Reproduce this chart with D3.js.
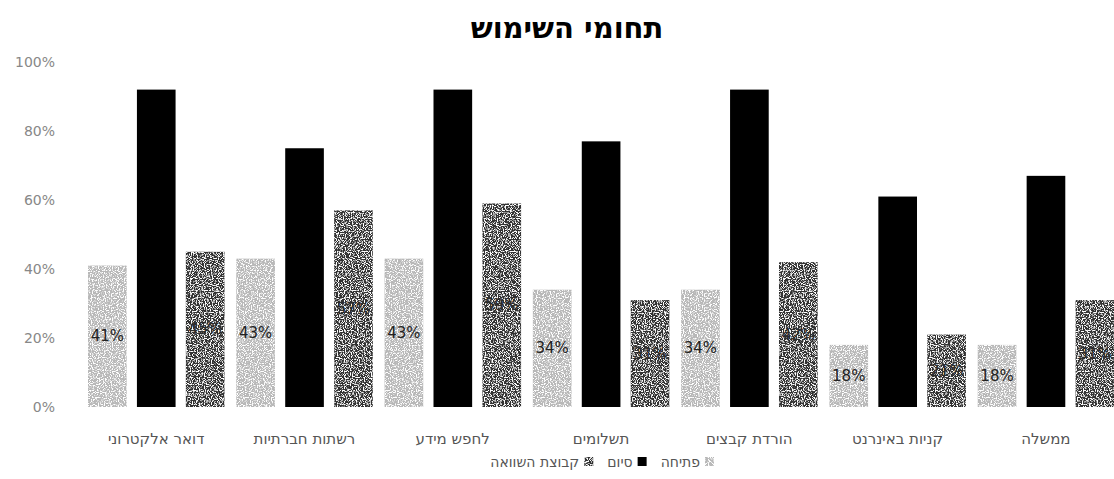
<!DOCTYPE html>
<html lang="he">
<head>
<meta charset="utf-8">
<script src="https://cdn.jsdelivr.net/npm/d3@7"></script>
<style>
  body { margin: 0; background: #fff; }
  text { font-family: 'DejaVu Sans', 'Noto Sans', sans-serif; }
</style>
</head>
<body>
<div class="chart"></div>
<script>
// categories, left to right as in the picture
const categories = ['דואר אלקטרוני', 'רשתות חברתיות', 'לחפש מידע', 'תשלומים', 'הורדת קבצים', 'קניות באינרנט', 'ממשלה']
const seriesNames = ['פתיחה', 'סיום', 'קבוצת השוואה']

const opening = [41, 43, 43, 34, 34, 18, 18]
const closing = [92, 75, 92, 77, 92, 61, 67]
const compare = [45, 57, 59, 31, 42, 21, 31]

const yTicks = [0, 20, 40, 60, 80, 100]

const values = [opening, closing, compare]
const fills = ['#b8b8b8', '#000000', '#333333']
const labelFills = ['#222', '#000', '#2b2b2b']

var svgWidth = 1114
var svgHeight = 479

var margin = { top: 62, bottom: 72, left: 82, right: -6 }

var height = svgHeight - margin.top - margin.bottom
var width = svgWidth - margin.left - margin.right

var svg = d3.select('.chart')
    .append('svg')
    .attr('width', svgWidth)
    .attr('height', svgHeight)

// speckle texture, like the scanned print
var defs = svg.append('defs')
var filt = defs.append('filter').attr('id', 'speckle')
    .attr('x', 0).attr('y', 0).attr('width', 1).attr('height', 1)
filt.append('feTurbulence')
    .attr('type', 'fractalNoise').attr('baseFrequency', 0.85)
    .attr('numOctaves', 1).attr('seed', 4).attr('result', 'noise')
filt.append('feColorMatrix').attr('in', 'noise').attr('type', 'matrix')
    .attr('values', '0 0 0 0 1  0 0 0 0 1  0 0 0 0 1  -7 0 0 0 3.6')
    .attr('result', 'dots')
filt.append('feComposite').attr('in', 'dots').attr('in2', 'SourceGraphic')
    .attr('operator', 'in').attr('result', 'clipped')
var merge = filt.append('feMerge')
merge.append('feMergeNode').attr('in', 'SourceGraphic')
merge.append('feMergeNode').attr('in', 'clipped')

var chartGroup = svg.append('g')
    .attr('transform', `translate(${margin.left}, ${margin.top})`)

// title
svg.append('text')
    .attr('x', 567)
    .attr('y', 38)
    .attr('text-anchor', 'middle')
    .attr('font-size', '29px')
    .attr('font-weight', 'bold')
    .attr('fill', '#000')
    .text('תחומי השימוש')

var x0 = d3.scaleBand()
    .domain(categories)
    .range([0, width])

var x1 = d3.scaleBand()
    .domain(d3.range(3))
    .range([6, 142.5])
    .paddingInner(0.21)

var yScale = d3.scaleLinear()
    .domain([0, 100])
    .range([height, 0])

// y axis, labels only
var yAxis = chartGroup.append('g')
    .attr('transform', 'translate(-24, 0)')
    .call(d3.axisLeft(yScale).tickValues(yTicks).tickFormat(d => d + '%').tickSize(0))
yAxis.select('.domain').remove()
yAxis.selectAll('text')
    .attr('font-family', "'DejaVu Sans', sans-serif")
    .attr('font-size', '14px')
    .attr('fill', '#888')

// bars
var groups = chartGroup.selectAll('.grp')
    .data(categories)
    .enter()
    .append('g')
    .attr('class', 'grp')
    .attr('transform', d => `translate(${x0(d)}, 0)`)

groups.selectAll('rect')
    .data((d, i) => values.map((v, s) => ({ s: s, v: v[i] })))
    .enter()
    .append('rect')
    .attr('x', d => x1(d.s))
    .attr('y', d => yScale(d.v))
    .attr('width', x1.bandwidth())
    .attr('height', d => height - yScale(d.v))
    .attr('fill', d => fills[d.s])
    .attr('filter', d => d.s == 1 ? null : 'url(#speckle)')

groups.selectAll('.lbl')
    .data((d, i) => values.map((v, s) => ({ s: s, v: v[i] })))
    .enter()
    .append('text')
    .attr('class', 'lbl')
    .attr('x', d => x1(d.s) + x1.bandwidth() / 2)
    .attr('y', d => (yScale(d.v) + height) / 2 + 5)
    .attr('text-anchor', 'middle')
    .attr('font-size', '15px')
    .attr('fill', d => labelFills[d.s])
    .text(d => d.v + '%')

// x labels
var xAxis = chartGroup.append('g')
    .attr('transform', `translate(0, ${height})`)
    .call(d3.axisBottom(x0).tickSize(0).tickPadding(26))
xAxis.select('.domain').remove()
xAxis.selectAll('text')
    .attr('font-family', "'DejaVu Sans', sans-serif")
    .attr('font-size', '15px')
    .attr('fill', '#555')

// legend, right to left
var legend = svg.append('g')
var lx = 714
seriesNames.forEach((name, s) => {
    legend.append('rect')
        .attr('x', lx - 9)
        .attr('y', 457)
        .attr('width', 9)
        .attr('height', 9)
        .attr('fill', fills[s])
        .attr('filter', s == 1 ? null : 'url(#speckle)')
    var t = legend.append('text')
        .attr('x', lx - 14)
        .attr('y', 467)
        .attr('text-anchor', 'end')
        .attr('font-size', '14px')
        .attr('fill', '#555')
        .text(name)
    lx = lx - 14 - t.node().getComputedTextLength() - 14
})
</script>
</body>
</html>
